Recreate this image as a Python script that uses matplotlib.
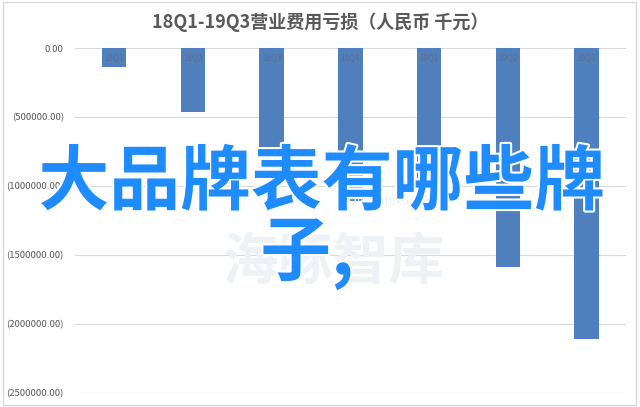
import matplotlib
matplotlib.use("Agg")
import matplotlib.pyplot as plt
import matplotlib.patheffects as pe
from matplotlib.patches import Rectangle
from matplotlib.ticker import FuncFormatter

plt.rcParams['font.family'] = ['Noto Sans CJK SC', 'DejaVu Sans']

categories = ["18Q1", "18Q2", "18Q3", "18Q4", "19Q1", "19Q2", "19Q3"]
values = [-140000, -460000, -720000, -1110000, -1010000, -1585000, -2110000]
yticks = [0, -500000, -1000000, -1500000, -2000000, -2500000]
title = "18Q1-19Q3营业费用亏损（人民币 千元）"
overlay_line1 = "大品牌表有哪些牌"
overlay_line2 = "子,"

fig = plt.figure(figsize=(6.4, 4.07), dpi=100)
fig.patch.set_facecolor("white")
fig.patches.append(Rectangle((0.004, 0.006), 0.99, 0.988, transform=fig.transFigure,
                             fill=False, edgecolor="#d9d9d9", linewidth=1.0))

ax = fig.add_axes([0.117, 0.034, 0.861, 0.848])
x = list(range(len(categories)))
ax.bar(x, values, width=0.31, color="#4f80bd", zorder=2)
for xi, lab in zip(x, categories):
    ax.text(xi, -40000, lab, ha="center", va="top", fontsize=5.8, color="#5a6f8c", zorder=3)

ax.set_xlim(-0.5, len(categories) - 0.5)
ax.set_ylim(-2500000, 0)
ax.set_yticks(yticks)
ax.yaxis.set_major_formatter(FuncFormatter(
    lambda v, p: "0.00" if v == 0 else f"({abs(v):.2f})"))
ax.tick_params(axis="y", length=0, labelsize=6.8, labelcolor="#595959", pad=8)
ax.set_xticks([])
ax.grid(axis="y", color="#d9d9d9", linewidth=0.8, zorder=0)
ax.set_axisbelow(True)
for s in ax.spines.values():
    s.set_visible(False)

fig.text(0.5, 0.945, title, ha="center", va="center", fontsize=13,
         fontweight="bold", color="#595959")

# faint watermark
fig.text(0.61, 0.505, "haitunzhiku.com", ha="center", va="center", fontsize=8.5,
         color="#edf1f5", zorder=1)
fig.text(0.52, 0.355, "海豚智库", ha="center", va="center", fontsize=40,
         fontweight="bold", color="#eef2f6", zorder=1)

stroke = [pe.withStroke(linewidth=3, foreground="white")]
fig.text(0.503, 0.55, overlay_line1, ha="center", va="center", fontsize=51,
         fontweight="bold", color="#1e8cff", path_effects=stroke, zorder=5)
fig.text(0.48, 0.375, overlay_line2, ha="center", va="center", fontsize=51,
         fontweight="bold", color="#1e8cff", path_effects=stroke, zorder=5)

fig.savefig("out.png", dpi=100, facecolor="white")
